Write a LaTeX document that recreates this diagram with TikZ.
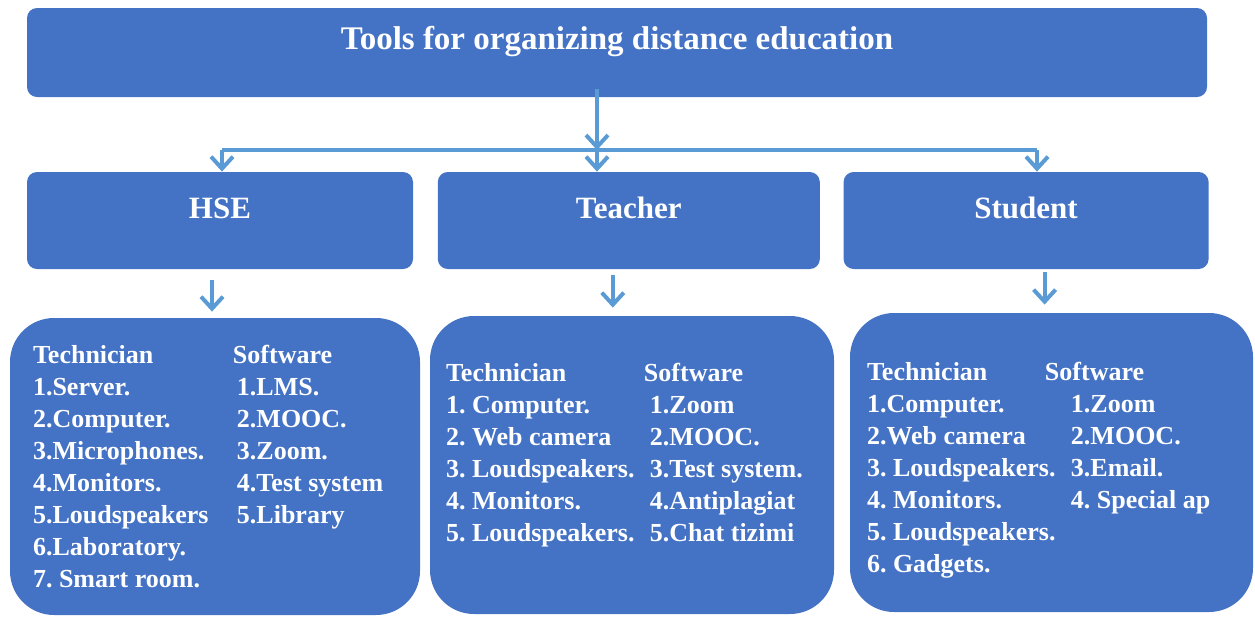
\documentclass[tikz,border=0pt]{standalone}
\usepackage{fontspec}
\setmainfont{Liberation Serif}
\usetikzlibrary{positioning,arrows.meta}
\definecolor{boxblue}{HTML}{4472C4}
\definecolor{linkblue}{HTML}{5B9BD5}

\begin{document}
\begin{tikzpicture}[x=0.5pt, y=-0.5pt,
  headbox/.style={fill=boxblue, rounded corners=5pt, inner sep=0pt, minimum height=48.5pt},
  listbox/.style={fill=boxblue, rounded corners=22pt, inner sep=0pt},
  headtext/.style={text=white, inner sep=0pt, anchor=base, font=\fontsize{15.5}{18}\selectfont\bfseries},
  listtext/.style={text=white, inner sep=0pt, anchor=north west, font=\fontsize{13}{16}\selectfont\bfseries\frenchspacing},
  link/.style={draw=linkblue, line width=2pt, -{Straight Barb[length=6pt,width=11pt]}},
  bus/.style={draw=linkblue, line width=2pt}]

 \useasboundingbox (0,0) rectangle (1255,617);

 %%%  nodes

 % top node
 \node [headbox, minimum width=590pt, minimum height=44.5pt,
        label={[headtext, font=\fontsize{16.5}{19}\selectfont\bfseries, yshift=-21pt]north:Tools for organizing distance education}] (top) at (617,52.5) {};

 % head nodes
 \node [headbox, minimum width=193pt, label={[headtext, yshift=-23.5pt]north:HSE}] (hse) at (220,220.5) {};
 \node [headbox, minimum width=191pt, right=12pt of hse, label={[headtext, yshift=-23.5pt]north:Teacher}] (tch) {};
 \node [headbox, minimum width=182.5pt, right=11.5pt of tch, label={[headtext, yshift=-23.5pt]north:Student}] (stu) {};

 % list nodes
 \node [listbox, minimum width=205pt, minimum height=148.5pt,
        label={[listtext, xshift=11.5pt, yshift=-11.3pt]north west:{\begin{tabular}{@{}p{102pt}@{}l@{}}
          Technician & \hspace{-2pt}Software\\
          1.Server. & 1.LMS.\\
          2.Computer. & 2.MOOC.\\
          3.Microphones. & 3.Zoom.\\
          4.Monitors. & 4.Test system\\
          5.Loudspeakers & 5.Library\\
          6.Laboratory. & \\
          7. Smart room. &
        \end{tabular}}}] (hsel) at (215,466.5) {};
 \node [listbox, minimum width=202pt, minimum height=149pt,
        label={[listtext, xshift=8pt, yshift=-21.7pt]north west:{\begin{tabular}{@{}p{102pt}@{}l@{}}
          Technician & \hspace{-3pt}Software\\
          1. Computer. & 1.Zoom\\
          2. Web camera & 2.MOOC.\\
          3. Loudspeakers. & 3.Test system.\\
          4. Monitors. & 4.Antiplagiat\\
          5. Loudspeakers. & 5.Chat tizimi
        \end{tabular}}}] (tchl) at (632,465) {};
 \node [listbox, minimum width=201.5pt, minimum height=149.5pt,
        label={[listtext, xshift=8.5pt, yshift=-22.3pt]north west:{\begin{tabular}{@{}p{102pt}@{}l@{}}
          Technician & \hspace{-13pt}Software\\
          1.Computer. & 1.Zoom\\
          2.Web camera & 2.MOOC.\\
          3. Loudspeakers. & 3.Email.\\
          4. Monitors. & 4. Special ap\\
          5. Loudspeakers. & \\
          6. Gadgets. &
        \end{tabular}}}] (stul) at (1051.5,462.5) {};

 %%%  links

 \coordinate (fork) at (597,150);
 \coordinate (hsein) at (222,150);
 \coordinate (stuin) at (1037,150);

 \draw [link, shorten <=-4pt] (top.south -| fork) to (fork);
 \draw [bus] (hsein) to (stuin);
 \draw [link] (hsein) to (hsein |- hse.north);
 \draw [link] (fork) to (fork |- tch.north);
 \draw [link] (stuin) to (stuin |- stu.north);

 \draw [link, shorten <=5.5pt, shorten >=3pt] ([xshift=-4pt]hse.south) to ([xshift=-4pt]hse.south |- hsel.north);
 \draw [link, shorten <=3pt, shorten >=4pt] ([xshift=-8pt]tch.south) to ([xshift=-8pt]tch.south |- tchl.north);
 \draw [link, shorten <=1.5pt, shorten >=4pt] ([xshift=9.25pt]stu.south) to ([xshift=9.25pt]stu.south |- stul.north);

\end{tikzpicture}
\end{document}
